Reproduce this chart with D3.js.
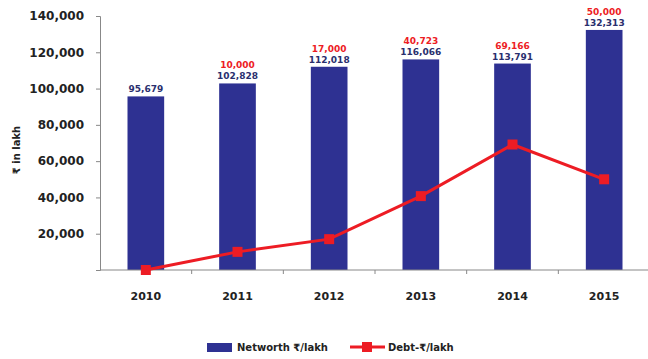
<!DOCTYPE html>
<html>
<head>
<meta charset="utf-8">
<script src="https://cdn.jsdelivr.net/npm/d3@7"></script>
<style>
  body { margin: 0; background: #fff; }
  text { font-family: Verdana, "DejaVu Sans", sans-serif; }
</style>
</head>
<body>
<div id="chart"></div>
<script>
const years = ['2010', '2011', '2012', '2013', '2014', '2015']
const networth = [95679, 102828, 112018, 116066, 113791, 132313]
const debt = [0, 10000, 17000, 40723, 69166, 50000]
const debtLabels = ['', '10,000', '17,000', '40,723', '69,166', '50,000']
const yTicks = [20000, 40000, 60000, 80000, 100000, 120000, 140000]

let svgWidth = 648,
  svgHeight = 359
let margin = { top: 16, right: -2, bottom: 89, left: 100 }
let width = svgWidth - margin.left - margin.right
let height = svgHeight - margin.top - margin.bottom

const blue = '#2e3192'
const red = '#ed1c24'

let svg = d3
  .select('#chart')
  .append('svg')
  .attr('width', svgWidth)
  .attr('height', svgHeight)

let g = svg.append('g').attr('transform', 'translate(' + margin.left + ',' + margin.top + ')')

let x = d3.scaleBand().domain(years).range([0, width]).paddingInner(0.6).paddingOuter(0.3)
let y = d3.scaleLinear().domain([0, 140000]).range([height, 0])

// y axis
let yAxis = g.append('g').call(d3.axisLeft(y).tickValues(yTicks).tickSize(4).tickFormat(d3.format(',')))
yAxis.select('.domain').attr('stroke', '#888')
yAxis.selectAll('.tick line').attr('stroke', '#888')
yAxis
  .selectAll('.tick text')
  .attr('x', -16)
  .style('font-size', '12px')
  .style('font-weight', 'bold')
  .attr('fill', '#222')

// bars
g.selectAll('.bar')
  .data(years)
  .enter()
  .append('rect')
  .attr('class', 'bar')
  .attr('x', (d) => x(d))
  .attr('width', x.bandwidth())
  .attr('y', (d, i) => y(networth[i]))
  .attr('height', (d, i) => height - y(networth[i]))
  .attr('fill', blue)

// x axis
let xAxis = g.append('g').attr('transform', 'translate(0,' + height + ')')
xAxis.append('line').attr('x1', 0).attr('x2', width).attr('stroke', '#888')
xAxis
  .selectAll('.xt')
  .data(years.slice(1))
  .enter()
  .append('line')
  .attr('x1', (d) => x(d) - (x.step() - x.bandwidth()) / 2)
  .attr('x2', (d) => x(d) - (x.step() - x.bandwidth()) / 2)
  .attr('y1', 0)
  .attr('y2', 4)
  .attr('stroke', '#888')
xAxis
  .selectAll('.xl')
  .data(years)
  .enter()
  .append('text')
  .attr('x', (d) => x(d) + x.bandwidth() / 2)
  .attr('y', 30)
  .attr('text-anchor', 'middle')
  .style('font-size', '11px')
  .style('font-weight', 'bold')
  .attr('fill', '#222')
  .text((d) => d)

// networth labels
g.selectAll('.nl')
  .data(years)
  .enter()
  .append('text')
  .attr('x', (d) => x(d) + x.bandwidth() / 2)
  .attr('y', (d, i) => y(networth[i]) - 4)
  .attr('text-anchor', 'middle')
  .style('font-size', '9px')
  .style('font-weight', 'bold')
  .attr('fill', '#2a2f6e')
  .text((d, i) => d3.format(',')(networth[i]))

// debt labels
g.selectAll('.dl')
  .data(years)
  .enter()
  .append('text')
  .attr('x', (d) => x(d) + x.bandwidth() / 2)
  .attr('y', (d, i) => y(networth[i]) - 15)
  .attr('text-anchor', 'middle')
  .style('font-size', '9px')
  .style('font-weight', 'bold')
  .attr('fill', red)
  .text((d, i) => debtLabels[i])

// debt line
let line = d3
  .line()
  .x((d, i) => x(years[i]) + x.bandwidth() / 2)
  .y((d) => y(d))

g.append('path').datum(debt).attr('d', line).attr('stroke', red).style('stroke-width', 3).style('fill', 'none')

g.selectAll('.mk')
  .data(debt)
  .enter()
  .append('rect')
  .attr('x', (d, i) => x(years[i]) + x.bandwidth() / 2 - 5)
  .attr('y', (d) => y(d) - 5)
  .attr('width', 10)
  .attr('height', 10)
  .attr('fill', red)

// y axis title
svg
  .append('text')
  .attr('transform', 'translate(20,150) rotate(-90)')
  .attr('text-anchor', 'middle')
  .style('font-size', '10px')
  .style('font-weight', 'bold')
  .attr('fill', '#222')
  .text('₹ in lakh')

// legend
let lg = svg.append('g').attr('transform', 'translate(207,348)')
lg.append('rect').attr('x', 0).attr('y', -5).attr('width', 25).attr('height', 9).attr('fill', blue)
lg.append('text').attr('x', 30).attr('y', 3).style('font-size', '10px').style('font-weight', 'bold').attr('fill', '#222').text('Networth ₹/lakh')
lg.append('line').attr('x1', 143).attr('x2', 178).attr('y1', -1).attr('y2', -1).attr('stroke', red).style('stroke-width', 3)
lg.append('rect').attr('x', 155).attr('y', -6).attr('width', 10).attr('height', 10).attr('fill', red)
lg.append('text').attr('x', 181).attr('y', 3).style('font-size', '10px').style('font-weight', 'bold').attr('fill', '#222').text('Debt-₹/lakh')
</script>
</body>
</html>
